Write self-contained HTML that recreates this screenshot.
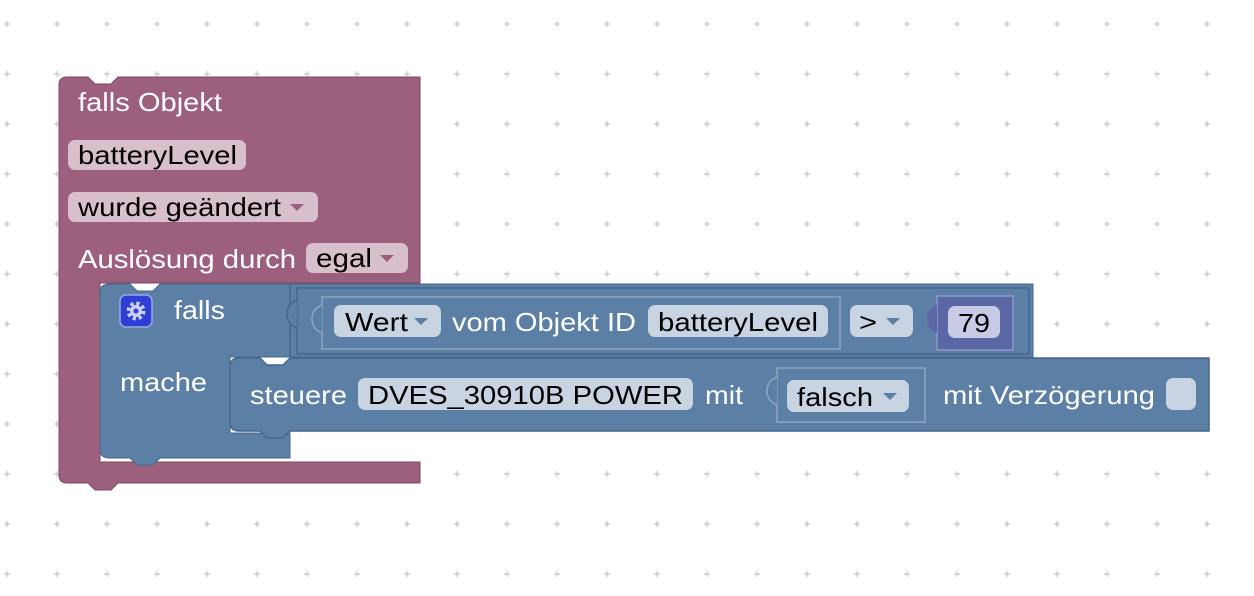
<!DOCTYPE html>
<html><head><meta charset="utf-8"><style>
html,body{margin:0;padding:0;background:#fff;}
svg{display:block;}
text{font-family:"Liberation Sans",sans-serif;font-size:26px;}
.w{fill:#fff;}
.b{fill:#000;}
</style></head><body>
<svg width="1254" height="596" viewBox="0 0 1254 596" xmlns="http://www.w3.org/2000/svg">
<defs>
<pattern id="g" x="0" y="0" width="50" height="50" patternUnits="userSpaceOnUse">
<path d="M7 21v6M4 24h6" stroke="#c8c8c8" stroke-width="1.3"/>
</pattern>
</defs>
<rect width="1254" height="596" fill="url(#g)"/>

<!-- pink event block -->
<path d="M67 77 H88 l7 7 h16 l7 -7 H420 V283 H100 V462 H420 V483 H118 l-7 7 h-16 l-7 -7 H67 q-8 0 -8 -8 V85 q0 -8 8 -8z" fill="#9c5f7e" stroke="#7d4a64" stroke-width="1"/>
<text x="78" y="111" class="w" textLength="144" lengthAdjust="spacingAndGlyphs">falls Objekt</text>
<rect x="68" y="140" width="178" height="30" rx="7" fill="#d8bfcc"/>
<text x="78" y="164" class="b" textLength="159" lengthAdjust="spacingAndGlyphs">batteryLevel</text>
<rect x="68" y="192" width="250" height="30" rx="7" fill="#d8bfcc"/>
<text x="78" y="216" class="b" textLength="203" lengthAdjust="spacingAndGlyphs">wurde geändert</text>
<path d="M290 204 h14 l-7 7z" fill="#9c5f7e"/>
<text x="78" y="268" class="w" textLength="218" lengthAdjust="spacingAndGlyphs">Auslösung durch</text>
<rect x="306" y="243" width="102" height="30" rx="7" fill="#d8bfcc"/>
<text x="316" y="267" class="b" textLength="56" lengthAdjust="spacingAndGlyphs">egal</text>
<path d="M380 255 h14 l-7 7z" fill="#9c5f7e"/>

<!-- blue if block -->
<path d="M109 284 H130 l7 7 h16 l7 -7 H1033 V357 H230 V433 H290 V458 H160 l-7 7 h-16 l-7 -7 H109 q-9 0 -9 -9 V293 q0 -9 9 -9z" fill="#5b7fa5" stroke="#46678a" stroke-width="1"/>
<line x1="290" y1="284" x2="290" y2="357" stroke="#46678a" stroke-width="1.5"/>
<rect x="120" y="295" width="32" height="32" rx="6" fill="#2f3fd6" stroke="#9ba8e6" stroke-width="1.5"/>
<circle cx="136" cy="311" r="7.5" fill="none" stroke="#c9d0f5" stroke-width="4" stroke-dasharray="3.2 2.7"/>
<circle cx="136" cy="311" r="6" fill="#c9d0f5"/>
<circle cx="136" cy="311" r="2.5" fill="#2f3fd6"/>
<text x="174" y="319" class="w" textLength="51" lengthAdjust="spacingAndGlyphs">falls</text>
<text x="120" y="391" class="w" textLength="87" lengthAdjust="spacingAndGlyphs">mache</text>

<!-- compare block inner -->
<rect x="297" y="288" width="732" height="66" fill="none" stroke="#46678a" stroke-width="1.5"/>
<path d="M297 300 q-10 4 -10 14 q0 10 10 14" fill="#5b7fa5" stroke="#46678a" stroke-width="1.5"/>
<rect x="322" y="297" width="518" height="52" fill="none" stroke="#8fa6bf" stroke-width="1.5"/>
<path d="M322 305 q-10 4 -10 14 q0 10 10 14" fill="#5b7fa5" stroke="#8fa6bf" stroke-width="1.5"/>
<rect x="334" y="305" width="107" height="32" rx="7" fill="#c9d4e3"/>
<text x="345" y="331" class="b" textLength="63" lengthAdjust="spacingAndGlyphs">Wert</text>
<path d="M414 318 h14 l-7 7z" fill="#5b7fa5"/>
<text x="452" y="331" class="w" textLength="184" lengthAdjust="spacingAndGlyphs">vom Objekt ID</text>
<rect x="648" y="305" width="180" height="32" rx="7" fill="#c9d4e3"/>
<text x="658" y="331" class="b" textLength="160" lengthAdjust="spacingAndGlyphs">batteryLevel</text>
<rect x="850" y="305" width="63" height="32" rx="7" fill="#c9d4e3"/>
<text x="859" y="331" class="b" textLength="18" lengthAdjust="spacingAndGlyphs">&gt;</text>
<path d="M886 318 h14 l-7 7z" fill="#5b7fa5"/>
<rect x="937" y="296" width="76" height="54" fill="#5b67a5" stroke="#8f98c9" stroke-width="1.5"/>
<path d="M937 305 q-10 4 -10 14 q0 10 10 14z" fill="#5b67a5"/>
<rect x="948" y="306" width="52" height="32" rx="7" fill="#c8cbe6"/>
<text x="958" y="332" class="b" textLength="32" lengthAdjust="spacingAndGlyphs">79</text>

<!-- steuere block -->
<path d="M239 358 H260 l7 7 h16 l7 -7 H1209 V431 H290 l-7 7 h-16 l-7 -7 H239 q-9 0 -9 -9 V367 q0 -9 9 -9z" fill="#5b7fa5" stroke="#46678a" stroke-width="1.5"/>
<text x="250" y="404" class="w" textLength="97" lengthAdjust="spacingAndGlyphs">steuere</text>
<rect x="358" y="378" width="335" height="32" rx="7" fill="#c9d4e3"/>
<text x="368" y="404" class="b" textLength="315" lengthAdjust="spacingAndGlyphs">DVES_30910B POWER</text>
<text x="705" y="404" class="w" textLength="38" lengthAdjust="spacingAndGlyphs">mit</text>
<rect x="777" y="368" width="148" height="54" fill="none" stroke="#8fa6bf" stroke-width="1.5"/>
<path d="M777 377 q-10 4 -10 14 q0 10 10 14" fill="#5b7fa5" stroke="#8fa6bf" stroke-width="1.5"/>
<rect x="787" y="380" width="122" height="32" rx="7" fill="#c9d4e3"/>
<text x="797" y="406" class="b" textLength="76" lengthAdjust="spacingAndGlyphs">falsch</text>
<path d="M883 393 h14 l-7 7z" fill="#5b7fa5"/>
<text x="943" y="404" class="w" textLength="212" lengthAdjust="spacingAndGlyphs">mit Verzögerung</text>
<rect x="1166" y="378" width="30" height="32" rx="7" fill="#c9d4e3"/>
</svg>
</body></html>
